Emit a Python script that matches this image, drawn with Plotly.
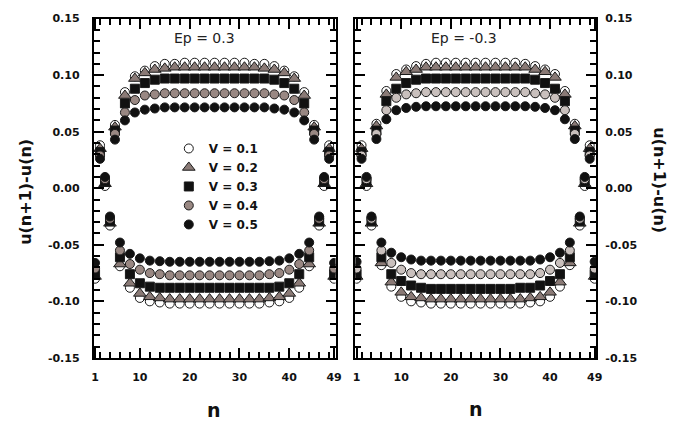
import plotly.graph_objects as go

n = list(range(1, 50))

# ---- Ep = 0.3 (left panel) ----
L_v01 = [-0.080, 0.038, 0.002, -0.033, 0.056, -0.069, 0.085, -0.088, 0.099, -0.097,
         0.104, -0.100, 0.108, -0.101, 0.110, -0.102, 0.110, -0.102, 0.111, -0.102,
         0.111, -0.102, 0.111, -0.102, 0.111, -0.102, 0.111, -0.102, 0.111, -0.102,
         0.111, -0.102, 0.110, -0.102, 0.110, -0.101, 0.108, -0.100, 0.104, -0.097,
         0.099, -0.088, 0.085, -0.069, 0.056, -0.033, 0.002, 0.038, -0.080]
L_v02 = [-0.078, 0.035, 0.004, -0.031, 0.054, -0.067, 0.082, -0.084, 0.097, -0.093,
         0.102, -0.096, 0.105, -0.097, 0.106, -0.098, 0.107, -0.098, 0.107, -0.098,
         0.107, -0.098, 0.107, -0.098, 0.107, -0.098, 0.107, -0.098, 0.107, -0.098,
         0.107, -0.098, 0.107, -0.098, 0.106, -0.097, 0.105, -0.096, 0.102, -0.093,
         0.097, -0.084, 0.082, -0.067, 0.054, -0.031, 0.004, 0.035, -0.078]
L_v03 = [-0.076, 0.032, 0.006, -0.029, 0.051, -0.061, 0.075, -0.076, 0.088, -0.084,
         0.093, -0.087, 0.096, -0.088, 0.097, -0.088, 0.097, -0.088, 0.097, -0.088,
         0.097, -0.088, 0.097, -0.088, 0.097, -0.088, 0.097, -0.088, 0.097, -0.088,
         0.097, -0.088, 0.097, -0.088, 0.097, -0.088, 0.096, -0.087, 0.093, -0.084,
         0.088, -0.076, 0.075, -0.061, 0.051, -0.029, 0.006, 0.032, -0.076]
L_v04 = [-0.071, 0.029, 0.008, -0.027, 0.048, -0.055, 0.067, -0.067, 0.078, -0.072,
         0.082, -0.075, 0.083, -0.076, 0.084, -0.077, 0.084, -0.077, 0.084, -0.077,
         0.084, -0.077, 0.084, -0.077, 0.084, -0.077, 0.084, -0.077, 0.084, -0.077,
         0.084, -0.077, 0.084, -0.077, 0.084, -0.076, 0.083, -0.075, 0.082, -0.072,
         0.078, -0.067, 0.067, -0.055, 0.048, -0.027, 0.008, 0.029, -0.071]
L_v05 = [-0.066, 0.026, 0.010, -0.025, 0.043, -0.048, 0.060, -0.058, 0.067, -0.062,
         0.0695, -0.064, 0.0705, -0.0645, 0.0715, -0.065, 0.0715, -0.065, 0.0715, -0.065,
         0.0715, -0.065, 0.0715, -0.065, 0.0715, -0.065, 0.0715, -0.065, 0.0715, -0.065,
         0.0715, -0.065, 0.0715, -0.065, 0.0715, -0.0645, 0.0705, -0.064, 0.0695, -0.062,
         0.067, -0.058, 0.060, -0.048, 0.043, -0.025, 0.010, 0.026, -0.066]

# ---- Ep = -0.3 (right panel) ----
R_v01 = [-0.080, 0.038, 0.002, -0.033, 0.057, -0.068, 0.086, -0.087, 0.101, -0.096,
         0.105, -0.100, 0.108, -0.101, 0.110, -0.102, 0.111, -0.102, 0.111, -0.102,
         0.111, -0.102, 0.111, -0.102, 0.111, -0.102, 0.111, -0.102, 0.111, -0.102,
         0.111, -0.102, 0.111, -0.102, 0.110, -0.101, 0.108, -0.100, 0.105, -0.096,
         0.101, -0.087, 0.086, -0.068, 0.057, -0.033, 0.002, 0.038, -0.080]
R_v02 = [-0.078, 0.035, 0.004, -0.031, 0.055, -0.066, 0.083, -0.083, 0.098, -0.092,
         0.103, -0.096, 0.105, -0.097, 0.107, -0.098, 0.107, -0.098, 0.107, -0.098,
         0.107, -0.098, 0.107, -0.098, 0.107, -0.098, 0.107, -0.098, 0.107, -0.098,
         0.107, -0.098, 0.107, -0.098, 0.107, -0.097, 0.105, -0.096, 0.103, -0.092,
         0.098, -0.083, 0.083, -0.066, 0.055, -0.031, 0.004, 0.035, -0.078]
R_v03 = [-0.076, 0.032, 0.006, -0.029, 0.051, -0.061, 0.077, -0.076, 0.088, -0.082,
         0.093, -0.086, 0.096, -0.088, 0.097, -0.089, 0.097, -0.089, 0.097, -0.089,
         0.097, -0.089, 0.097, -0.089, 0.097, -0.089, 0.097, -0.089, 0.097, -0.089,
         0.097, -0.089, 0.097, -0.088, 0.097, -0.088, 0.096, -0.086, 0.093, -0.082,
         0.088, -0.076, 0.077, -0.061, 0.051, -0.029, 0.006, 0.032, -0.076]
R_v04 = [-0.071, 0.029, 0.008, -0.027, 0.048, -0.055, 0.069, -0.066, 0.080, -0.072,
         0.083, -0.075, 0.084, -0.076, 0.085, -0.076, 0.085, -0.076, 0.085, -0.076,
         0.085, -0.076, 0.085, -0.076, 0.085, -0.076, 0.085, -0.076, 0.085, -0.076,
         0.085, -0.076, 0.085, -0.076, 0.085, -0.076, 0.084, -0.075, 0.083, -0.072,
         0.080, -0.066, 0.069, -0.055, 0.048, -0.027, 0.008, 0.029, -0.071]
R_v05 = [-0.065, 0.026, 0.010, -0.025, 0.0435, -0.048, 0.061, -0.057, 0.069, -0.061,
         0.071, -0.063, 0.072, -0.064, 0.0725, -0.064, 0.0725, -0.064, 0.0725, -0.064,
         0.0725, -0.064, 0.0725, -0.064, 0.0725, -0.064, 0.0725, -0.064, 0.0725, -0.064,
         0.0725, -0.064, 0.0725, -0.064, 0.0725, -0.064, 0.072, -0.063, 0.071, -0.061,
         0.069, -0.057, 0.061, -0.048, 0.0435, -0.025, 0.010, 0.026, -0.065]

series_names = ["V = 0.1", "V = 0.2", "V = 0.3", "V = 0.4", "V = 0.5"]
left_series = [L_v01, L_v02, L_v03, L_v04, L_v05]
right_series = [R_v01, R_v02, R_v03, R_v04, R_v05]

x_tickvals = [1, 10, 20, 30, 40, 49]
x_ticktext = ["1", "10", "20", "30", "40", "49"]
x_minor_ticks = [2, 4, 6, 8, 12, 14, 16, 18, 22, 24, 26, 28, 32, 34, 36, 38, 42, 44, 46, 48]
y_tickvals = [-0.15, -0.10, -0.05, 0.00, 0.05, 0.10, 0.15]
y_ticktext = ["-0.15", "-0.10", "-0.05", "0.00", "0.05", "0.10", "0.15"]
y_minor_ticks = [-0.14, -0.13, -0.12, -0.11, -0.09, -0.08, -0.07, -0.06,
                 -0.04, -0.03, -0.02, -0.01, 0.01, 0.02, 0.03, 0.04,
                 0.06, 0.07, 0.08, 0.09, 0.11, 0.12, 0.13, 0.14]
X_RANGE = [0.75, 49.3]
Y_RANGE = [-0.15, 0.15]

OUT = "#1a1a1a"
INK = "#000000"
styles = [
    dict(symbol="circle", color="#ffffff", size=9),
    dict(symbol="triangle-up", color="#8a7a76", size=11),
    dict(symbol="square", color="#111111", size=9),
    dict(symbol="circle", color="#998883", size=9),
    dict(symbol="circle", color="#111111", size=9),
]
right_grey = "#c9c0bd"

fig = go.Figure()
for i, (name, ys) in enumerate(zip(series_names, left_series)):
    st = styles[i]
    fig.add_trace(go.Scatter(
        x=n, y=ys, mode="markers", name=name,
        marker=dict(symbol=st["symbol"], size=st["size"], color=st["color"],
                    line=dict(color=OUT, width=1)),
        xaxis="x", yaxis="y", showlegend=True))
for i, (name, ys) in enumerate(zip(series_names, right_series)):
    st = styles[i]
    col = right_grey if i == 3 else st["color"]
    fig.add_trace(go.Scatter(
        x=n, y=ys, mode="markers", name=name,
        marker=dict(symbol=st["symbol"], size=st["size"], color=col,
                    line=dict(color=OUT, width=1)),
        xaxis="x2", yaxis="y2", showlegend=False))

tickfont = dict(family="DejaVu Sans", size=11, color="#111111", weight="bold")

def xax(domain, anchor):
    return dict(domain=domain, anchor=anchor, range=X_RANGE,
                tickmode="array", tickvals=x_tickvals, ticktext=x_ticktext,
                ticks="inside", ticklen=10, tickwidth=2, tickcolor=INK,
                minor=dict(tickmode="array", tickvals=x_minor_ticks, ticks="inside",
                           ticklen=6, tickwidth=2, tickcolor=INK),
                showline=True, linewidth=2, linecolor=INK, mirror="ticks",
                showgrid=False, zeroline=False, tickfont=tickfont,
                ticklabelstandoff=8, layer="above traces")

def yax(domain, anchor, side, standoff):
    return dict(domain=domain, anchor=anchor, range=Y_RANGE, side=side,
                tickmode="array", tickvals=y_tickvals, ticktext=y_ticktext,
                ticks="inside", ticklen=10, tickwidth=2, tickcolor=INK,
                minor=dict(tickmode="array", tickvals=y_minor_ticks, ticks="inside",
                           ticklen=6, tickwidth=2, tickcolor=INK),
                showline=True, linewidth=2, linecolor=INK, mirror="ticks",
                showgrid=False, zeroline=False, tickfont=tickfont,
                ticklabelstandoff=standoff, layer="above traces")

ydom = [62 / 425, 412 / 425]
fig.update_layout(
    width=689, height=425,
    margin=dict(l=0, r=0, t=0, b=0),
    paper_bgcolor="white", plot_bgcolor="white",
    xaxis=xax([92 / 689, 337 / 689], "y"),
    yaxis=yax(ydom, "x", "left", 10),
    xaxis2=xax([357 / 689, 601 / 689], "y2"),
    yaxis2=yax(ydom, "x2", "right", 5),
    legend=dict(x=168 / 689, y=(425 - 132) / 425, xanchor="left", yanchor="top",
                bgcolor="rgba(0,0,0,0)", borderwidth=0,
                font=dict(family="DejaVu Sans", size=12, color="#111111", weight="bold")),
    showlegend=True,
)

title_font = dict(family="DejaVu Sans", size=16, color="#111111", weight="bold")
ann = [
    dict(text="Ep = 0.3", x=204 / 689, y=(425 - 33) / 425,
         font=dict(family="DejaVu Sans", size=14, color="#222222")),
    dict(text="Ep = -0.3", x=467 / 689, y=(425 - 33) / 425,
         font=dict(family="DejaVu Sans", size=14, color="#222222")),
    dict(text="n", x=214 / 689, y=(425 - 417) / 425,
         font=dict(family="DejaVu Sans", size=19, color="#111111", weight="bold")),
    dict(text="n", x=479 / 689, y=(425 - 416) / 425,
         font=dict(family="DejaVu Sans", size=19, color="#111111", weight="bold")),
    dict(text="u(n+1)-u(n)", x=22 / 689, y=(425 - 192) / 425, textangle=-90,
         font=title_font),
    dict(text="u(n+1)-u(n)", x=665 / 689, y=(425 - 180) / 425, textangle=90,
         font=title_font),
]
for a in ann:
    fig.add_annotation(xref="paper", yref="paper", showarrow=False,
                       xanchor="center", yanchor="middle", **a)

fig.write_html("out.html")
